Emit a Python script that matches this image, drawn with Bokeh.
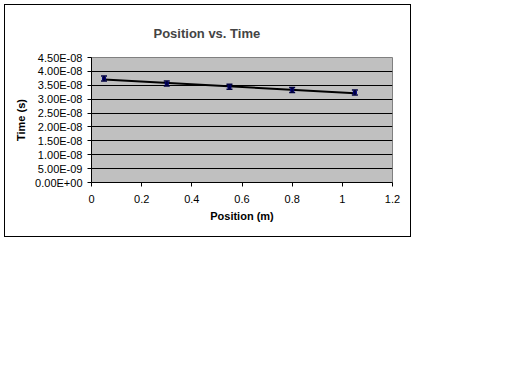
from bokeh.plotting import figure
from bokeh.models import Range1d, FixedTicker, CustomJSTickFormatter, Whisker, ColumnDataSource
from bokeh.embed import file_html
from bokeh.resources import INLINE
import numpy as np

# Data
position = [0.05, 0.3, 0.55, 0.8, 1.05]
time_s = [3.74e-8, 3.56e-8, 3.445e-8, 3.33e-8, 3.24e-8]
time_err = [0.9e-9, 0.9e-9, 0.9e-9, 0.9e-9, 0.9e-9]
x_ticks = [0, 0.2, 0.4, 0.6, 0.8, 1.0, 1.2]
y_ticks = [i * 5e-9 for i in range(10)]

FONT = "Liberation Sans"

p = figure(width=405, height=231, output_backend="svg", toolbar_location=None,
           x_range=Range1d(0, 1.2), y_range=Range1d(0, 4.5e-8),
           frame_width=301, frame_height=125,
           min_border_left=86, min_border_right=18, min_border_top=52, min_border_bottom=54)
p.styles = {"margin-left": "4px", "margin-top": "4px", "border": "1px solid black"}

p.background_fill_color = "#C0C0C0"
p.border_fill_color = "white"
p.outline_line_color = "#808080"

p.title.text = "Position vs. Time"
p.title.align = "left"
p.title.offset = 62
p.title.text_font = FONT
p.title.text_font_size = "13px"
p.title.text_font_style = "bold"
p.title.standoff = 34

p.xgrid.visible = False
p.ygrid.grid_line_color = "black"
p.ygrid.grid_line_width = 1

for ax in (p.xaxis[0], p.yaxis[0]):
    ax.axis_line_color = "black"
    ax.major_tick_line_color = "black"
    ax.major_tick_out = 4
    ax.major_tick_in = 0
    ax.minor_tick_line_color = None
    ax.major_label_text_font = FONT
    ax.major_label_text_font_size = "11px"
    ax.major_label_text_color = "black"
    ax.axis_label_text_font = FONT
    ax.axis_label_text_font_size = "11px"
    ax.axis_label_text_font_style = "bold"
    ax.axis_label_text_color = "black"

p.xaxis[0].ticker = FixedTicker(ticks=x_ticks)
p.yaxis[0].ticker = FixedTicker(ticks=y_ticks)
p.xaxis[0].formatter = CustomJSTickFormatter(code="return String(Math.round(tick*10)/10);")
p.yaxis[0].formatter = CustomJSTickFormatter(code="""
var s = tick.toExponential(2).split('e');
var ex = parseInt(s[1]);
if (Math.abs(tick) < 1e-20) { return '0.00E+00'; }
var a = Math.abs(ex);
return s[0] + 'E' + (ex < 0 ? '-' : '+') + (a < 10 ? '0' : '') + a;
""")
p.xaxis[0].axis_label = "Position (m)"
p.yaxis[0].axis_label = "Time (s)"
p.xaxis[0].major_label_standoff = 8
p.xaxis[0].axis_label_standoff = 4
p.yaxis[0].major_label_standoff = 5
p.yaxis[0].axis_label_standoff = 5

# Linear trendline from data
coef = np.polyfit(position, time_s, 1)
tx = [position[0], position[-1]]
ty = [coef[0] * v + coef[1] for v in tx]
p.line(tx, ty, line_color="black", line_width=2)

src = ColumnDataSource(dict(x=position, y=time_s,
                            lo=[a - b for a, b in zip(time_s, time_err)],
                            hi=[a + b for a, b in zip(time_s, time_err)]))
p.scatter("x", "y", source=src, marker="square", size=3, fill_color="#000080", line_color="#000080")
w = Whisker(source=src, base="x", upper="hi", lower="lo", line_color="#000040", line_width=2,
            level="overlay")
w.upper_head.size = 6
w.lower_head.size = 6
w.upper_head.line_color = "#000040"
w.lower_head.line_color = "#000040"
w.upper_head.line_width = 1.5
w.lower_head.line_width = 1.5
p.add_layout(w)

open("out.html", "w").write(file_html(p, INLINE))
